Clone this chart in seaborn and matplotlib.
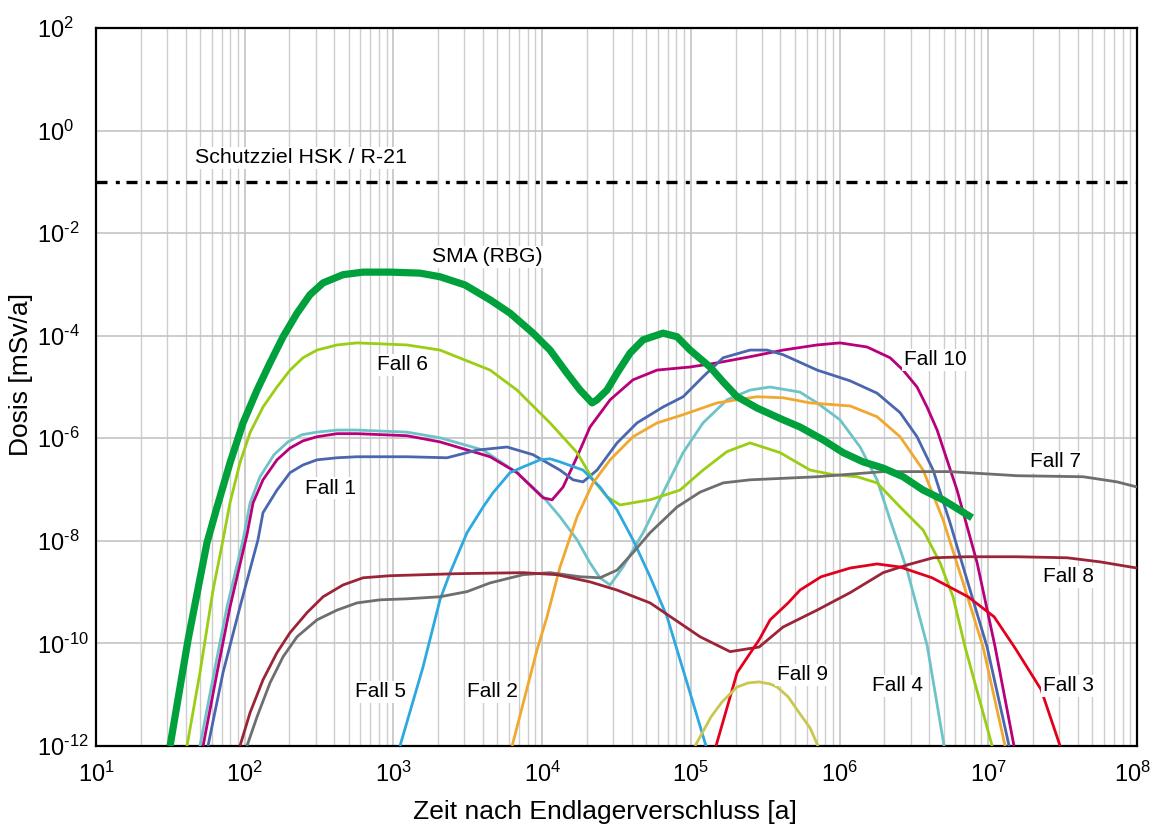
import numpy as np
import pandas as pd
import matplotlib
matplotlib.use("Agg")
import matplotlib.pyplot as plt
import matplotlib.transforms as mtransforms
import seaborn as sns

# ---- data: log10(time [a]) and log10(dose [mSv/a]) ----
sma_lx = [1.498, 1.619, 1.746, 1.814, 1.901, 1.989, 2.083, 2.170, 2.258, 2.352, 2.439, 2.527, 2.661, 2.796,
          2.977, 3.179, 3.313, 3.481, 3.650, 3.784, 3.939, 4.053, 4.167, 4.255, 4.336, 4.369, 4.436, 4.504,
          4.591, 4.679, 4.813, 4.907, 4.995, 5.129, 5.217, 5.311, 5.445, 5.620, 5.734, 5.889, 6.024, 6.158,
          6.292, 6.427, 6.562, 6.696, 6.891]
sma_ly = [-12.0, -9.93, -8.04, -7.34, -6.48, -5.70, -5.06, -4.53, -4.02, -3.56, -3.20, -2.97, -2.81, -2.76,
          -2.76, -2.78, -2.85, -3.01, -3.30, -3.56, -3.95, -4.28, -4.73, -5.06, -5.31, -5.25, -5.06, -4.73,
          -4.34, -4.08, -3.95, -4.02, -4.28, -4.61, -4.90, -5.19, -5.41, -5.64, -5.78, -6.03, -6.28, -6.46,
          -6.58, -6.75, -7.01, -7.20, -7.55]

f6_lx = [1.612, 1.699, 1.787, 1.854, 1.901, 1.968, 2.036, 2.123, 2.217, 2.305, 2.392, 2.486, 2.621, 2.755,
         3.091, 3.313, 3.650, 3.831, 4.053, 4.235, 4.342, 4.436, 4.524, 4.726, 4.927, 5.082, 5.243, 5.398,
         5.600, 5.802, 5.956, 6.118, 6.252, 6.407, 6.562, 6.676, 6.763, 6.844, 7.026]
f6_ly = [-12.0, -10.57, -8.96, -7.98, -7.26, -6.48, -5.89, -5.39, -5.00, -4.67, -4.43, -4.28, -4.18, -4.14,
         -4.18, -4.28, -4.67, -5.06, -5.70, -6.28, -6.81, -7.14, -7.30, -7.20, -7.01, -6.62, -6.26, -6.09,
         -6.28, -6.62, -6.71, -6.75, -6.87, -7.34, -7.79, -8.43, -9.09, -10.07, -12.0]

f10_lx = [1.720, 1.814, 1.901, 2.015, 2.056, 2.123, 2.217, 2.305, 2.392, 2.486, 2.621, 2.755, 3.091, 3.313,
          3.650, 3.831, 4.006, 4.067, 4.141, 4.235, 4.322, 4.457, 4.611, 4.773, 4.995, 5.176, 5.398, 5.620,
          5.849, 6.003, 6.185, 6.340, 6.427, 6.521, 6.588, 6.656, 6.790, 6.925, 7.046, 7.173]
f10_ly = [-12.0, -10.57, -9.29, -7.88, -7.26, -6.81, -6.42, -6.19, -6.05, -5.97, -5.91, -5.91, -5.95, -6.07,
          -6.36, -6.67, -7.16, -7.20, -6.95, -6.36, -5.78, -5.25, -4.86, -4.67, -4.61, -4.53, -4.41, -4.28,
          -4.18, -4.14, -4.22, -4.43, -4.67, -5.00, -5.39, -5.84, -7.01, -8.43, -10.07, -12.0]

f4_lx = [1.699, 1.794, 1.881, 1.989, 2.036, 2.103, 2.197, 2.291, 2.385, 2.486, 2.621, 2.755, 3.091, 3.313,
         3.603, 3.831, 4.006, 4.120, 4.235, 4.322, 4.389, 4.457, 4.544, 4.679, 4.813, 4.948, 5.082, 5.243,
         5.398, 5.533, 5.734, 5.849, 6.003, 6.138, 6.252, 6.340, 6.454, 6.589, 6.703]
f4_ly = [-12.0, -10.57, -9.29, -7.98, -7.26, -6.75, -6.32, -6.07, -5.93, -5.88, -5.84, -5.84, -5.88, -5.99,
         -6.23, -6.67, -7.14, -7.53, -7.98, -8.43, -8.72, -8.86, -8.51, -7.84, -7.06, -6.28, -5.70, -5.25,
         -5.06, -5.00, -5.10, -5.31, -5.64, -6.17, -6.81, -7.59, -8.57, -10.04, -12.0]

f1_lx = [1.753, 1.854, 1.968, 2.089, 2.123, 2.217, 2.305, 2.392, 2.486, 2.621, 2.755, 3.091, 3.360, 3.562,
         3.764, 3.939, 4.120, 4.208, 4.275, 4.369, 4.504, 4.638, 4.813, 4.948, 5.082, 5.217, 5.398, 5.512,
         5.620, 5.849, 6.071, 6.252, 6.407, 6.521, 6.629, 6.743, 6.857, 6.992, 7.140]
f1_ly = [-12.0, -10.57, -9.29, -7.98, -7.45, -7.01, -6.67, -6.52, -6.42, -6.38, -6.36, -6.36, -6.38, -6.23,
         -6.17, -6.32, -6.62, -6.81, -6.85, -6.62, -6.09, -5.70, -5.39, -5.19, -4.80, -4.43, -4.28, -4.28,
         -4.37, -4.67, -4.88, -5.12, -5.50, -5.97, -6.62, -7.65, -8.76, -10.07, -12.0]

f5_lx = [3.044, 3.199, 3.313, 3.381, 3.495, 3.603, 3.670, 3.784, 3.871, 3.986, 4.053, 4.120, 4.275, 4.389,
         4.504, 4.611, 4.726, 4.840, 4.988, 5.102]
f5_ly = [-12.0, -10.46, -9.15, -8.62, -7.84, -7.34, -7.06, -6.67, -6.56, -6.42, -6.40, -6.46, -6.62, -6.95,
         -7.40, -7.98, -8.70, -9.48, -10.90, -12.0]

f2_lx = [3.798, 3.966, 4.033, 4.120, 4.235, 4.342, 4.457, 4.611, 4.773, 4.948, 5.176, 5.445, 5.620, 5.802,
         6.071, 6.252, 6.407, 6.562, 6.696, 6.831, 6.965, 7.113]
f2_ly = [-12.0, -10.12, -9.48, -8.51, -7.53, -6.87, -6.42, -5.97, -5.70, -5.54, -5.31, -5.19, -5.21, -5.31,
         -5.37, -5.58, -5.97, -6.62, -7.59, -8.82, -10.07, -12.0]

f7_lx = [2.015, 2.083, 2.170, 2.258, 2.352, 2.486, 2.621, 2.755, 2.910, 3.091, 3.313, 3.495, 3.650, 3.872,
         4.053, 4.255, 4.389, 4.504, 4.611, 4.726, 4.907, 5.062, 5.217, 5.398, 5.849, 6.293, 6.743, 7.194,
         7.638, 7.866, 8.0]
f7_ly = [-12.0, -11.43, -10.77, -10.26, -9.87, -9.54, -9.35, -9.21, -9.15, -9.13, -9.09, -8.99, -8.82, -8.66,
         -8.62, -8.70, -8.72, -8.57, -8.23, -7.84, -7.34, -7.05, -6.87, -6.81, -6.75, -6.65, -6.65, -6.73,
         -6.75, -6.85, -6.95]

f8_lx = [1.968, 2.036, 2.123, 2.217, 2.305, 2.419, 2.527, 2.661, 2.796, 2.977, 3.428, 3.872, 4.100, 4.322,
         4.504, 4.726, 4.894, 5.062, 5.264, 5.459, 5.620, 5.849, 6.071, 6.293, 6.454, 6.629, 6.857, 7.194,
         7.530, 7.752, 8.0]
f8_ly = [-12.0, -11.35, -10.71, -10.18, -9.79, -9.40, -9.09, -8.86, -8.72, -8.68, -8.64, -8.62, -8.66, -8.80,
         -8.96, -9.21, -9.54, -9.87, -10.16, -10.07, -9.68, -9.35, -9.01, -8.62, -8.47, -8.33, -8.31, -8.31,
         -8.33, -8.41, -8.53]

f3_lx = [5.169, 5.311, 5.459, 5.533, 5.654, 5.734, 5.876, 6.071, 6.252, 6.407, 6.622, 6.864, 7.039, 7.180,
         7.355, 7.483]
f3_ly = [-12.0, -10.57, -9.93, -9.54, -9.21, -8.96, -8.70, -8.53, -8.45, -8.51, -8.72, -9.09, -9.48, -10.09,
         -10.90, -12.0]

f9_lx = [5.028, 5.089, 5.136, 5.210, 5.311, 5.385, 5.459, 5.533, 5.580, 5.654, 5.728, 5.802, 5.855]
f9_ly = [-12.0, -11.68, -11.43, -11.14, -10.85, -10.77, -10.75, -10.79, -10.85, -11.04, -11.35, -11.65, -12.0]

limit_value = 0.1  # Schutzziel HSK / R-21 [mSv/a]

x_exponents = [1, 2, 3, 4, 5, 6, 7, 8]
y_exponents = [-12, -10, -8, -6, -4, -2, 0, 2]

series = [
    ("Fall 4", f4_lx, f4_ly, "#6EC3C9", 2.0),
    ("Fall 10", f10_lx, f10_ly, "#B8007A", 2.0),
    ("Fall 1", f1_lx, f1_ly, "#4A66AE", 2.0),
    ("Fall 6", f6_lx, f6_ly, "#9ACD14", 2.0),
    ("Fall 5", f5_lx, f5_ly, "#2DA8E0", 2.0),
    ("Fall 2", f2_lx, f2_ly, "#F0A830", 2.0),
    ("Fall 7", f7_lx, f7_ly, "#6E6E6E", 2.0),
    ("Fall 8", f8_lx, f8_ly, "#9B2436", 2.0),
    ("Fall 3", f3_lx, f3_ly, "#E3001F", 2.0),
    ("Fall 9", f9_lx, f9_ly, "#C8C850", 2.0),
    ("SMA (RBG)", sma_lx, sma_ly, "#00A03C", 5.2),
]

labels = [
    ("Schutzziel HSK / R-21", 1.666, -0.53, "left", 15.4),
    ("SMA (RBG)", 3.26, -2.46, "left", 15.2),
    ("Fall 6", 3.06, -4.57, "center", 15),
    ("Fall 1", 2.574, -6.97, "center", 15),
    ("Fall 5", 2.91, -10.94, "center", 15),
    ("Fall 2", 3.663, -10.94, "center", 15),
    ("Fall 9", 5.748, -10.61, "center", 15),
    ("Fall 4", 6.387, -10.83, "center", 15),
    ("Fall 3", 7.537, -10.83, "center", 15),
    ("Fall 8", 7.537, -8.70, "center", 15),
    ("Fall 7", 7.449, -6.46, "center", 15),
    ("Fall 10", 6.642, -4.47, "center", 15),
]


def exp_label(k):
    if k < 0:
        return r"$\mathregular{10^{\text{-}%d}}$" % (-k)
    return r"$\mathregular{10^{%d}}$" % k


# ---- style ----
sns.set_style("white")
plt.rcParams["font.family"] = ["Liberation Sans", "DejaVu Sans"]
plt.rcParams["mathtext.fontset"] = "custom"
plt.rcParams["mathtext.rm"] = "Liberation Sans"
plt.rcParams["mathtext.it"] = "Liberation Sans"
plt.rcParams["text.color"] = "black"
plt.rcParams["axes.labelcolor"] = "black"
plt.rcParams["xtick.color"] = "black"
plt.rcParams["ytick.color"] = "black"

fig = plt.figure(figsize=(11.53, 8.25), dpi=100)
ax = fig.add_axes([96 / 1153, 1 - 746 / 825, (1137 - 96) / 1153, (746 - 28) / 825])
ax.set_xscale("log")
ax.set_yscale("log")
ax.set_xlim(1e1, 1e8)
ax.set_ylim(1e-12, 1e2)

# grid / ticks
xt_major = [10.0 ** k for k in x_exponents]
xt_minor = [m * 10.0 ** k for k in x_exponents[:-1] for m in range(2, 10)]
yt_major = [10.0 ** k for k in y_exponents]
ax.set_xticks(xt_major)
ax.set_xticks(xt_minor, minor=True)
ax.set_yticks(yt_major)
ax.set_yticks([], minor=True)
ax.set_xticklabels([exp_label(k) for k in x_exponents])
ax.set_yticklabels([exp_label(k) for k in y_exponents])
ax.grid(True, which="major", axis="both", color="#C4C4C4", lw=1.2, zorder=0)
ax.grid(True, which="minor", axis="x", color="#CDCDCD", lw=1.0, zorder=0)
ax.set_axisbelow(True)
ax.tick_params(axis="both", which="both", length=0, labelsize=17, labelcolor="black")
ax.tick_params(axis="x", pad=11)
ax.tick_params(axis="y", pad=42.5)
for lab in ax.get_yticklabels():
    lab.set_horizontalalignment("left")
# keep the last x tick label inside the figure, as in the reference
last = ax.get_xticklabels()[-1]
last.set_transform(last.get_transform() + mtransforms.ScaledTranslation(-4 / 100, 0, fig.dpi_scale_trans))
for s in ax.spines.values():
    s.set_color("black")
    s.set_linewidth(1.6)

# curves
for name, lx, ly, col, lw in series:
    df = pd.DataFrame({"t": np.power(10.0, lx), "d": np.power(10.0, ly)})
    sns.lineplot(data=df, x="t", y="d", color=col, lw=lw, ax=ax, sort=False,
                 estimator=None, solid_capstyle="butt", solid_joinstyle="round",
                 zorder=3 if lw < 3 else 4)

# limit line
ax.axhline(limit_value, color="black", lw=2.4, dashes=(3.3, 2.5, 1.2, 2.0), zorder=4)

# text labels
for txt, lx, ly, ha, fs in labels:
    ax.text(10 ** lx, 10 ** ly, txt, ha=ha, va="center", fontsize=fs,
            color="black", zorder=5,
            bbox=dict(facecolor="white", edgecolor="none", pad=1.0))

ax.set_xlabel("Zeit nach Endlagerverschluss [a]", fontsize=19, va="top", color="black")
ax.xaxis.set_label_coords(0.489, -0.0752)
ax.set_ylabel("Dosis [mSv/a]", fontsize=19, va="center", color="black")
ax.yaxis.set_label_coords(-0.072, 0.518)
if ax.get_legend() is not None:
    ax.get_legend().remove()

fig.savefig("out.png", dpi=100)
